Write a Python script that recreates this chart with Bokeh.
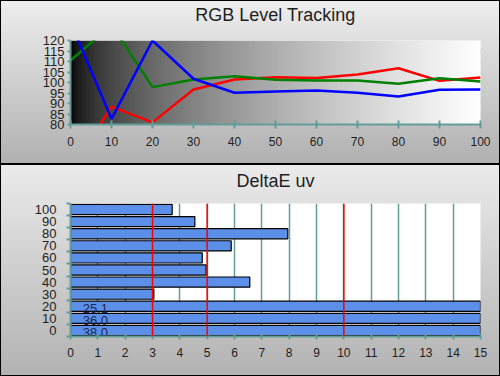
import numpy as np
from bokeh.plotting import figure
from bokeh.layouts import column
from bokeh.models import ColumnDataSource, Span, Range1d, FixedTicker, Title
from bokeh.core.properties import value
from bokeh.embed import file_html
from bokeh.resources import INLINE

# ---------------- data ----------------
levels = [0, 10, 20, 30, 40, 50, 60, 70, 80, 90, 100]
red = [58.0, 88.5, 81.0, 96.7, 101.4, 102.5, 102.2, 103.8, 106.8, 100.8, 102.4]
green = [110.5, 127.4, 97.8, 101.4, 103.0, 101.3, 101.0, 101.0, 99.4, 102.0, 100.5]
blue = [128.7, 82.7, 120.0, 101.8, 95.1, 95.7, 96.2, 95.1, 93.3, 96.5, 96.7]

de_levels = [0, 10, 20, 30, 40, 50, 60, 70, 80, 90, 100]
de_values = [38.0, 36.0, 25.1, 3.05, 6.56, 4.96, 4.82, 5.88, 7.95, 4.55, 3.72]
de_limits = [3, 5, 10]

rgb_yticks = [80, 85, 90, 95, 100, 105, 110, 115, 120]
rgb_xticks = [0, 10, 20, 30, 40, 50, 60, 70, 80, 90, 100]
de_xticks = list(range(0, 16))

TEAL = "#639d99"
FONT = "Liberation Sans"
TXT = "#1e1e1e"


def style_panel(p, grad, title, gap):
    p.border_fill_alpha = 0
    p.styles = {"background": grad, "outline": "1px solid #000",
                "outline-offset": "-1px"}
    # spacer between the frame and the title
    p.add_layout(Title(text=" ", text_font_size=gap, standoff=0), "above")
    p.add_layout(Title(text=title, align="center", text_font=FONT,
                       text_font_style="normal", text_color=TXT,
                       text_font_size="18px", standoff=0), "above")
    p.outline_line_color = None
    for ax in (p.xaxis[0], p.yaxis[0]):
        ax.axis_line_color = TEAL
        ax.axis_line_width = 2
        ax.major_tick_line_color = TEAL
        ax.major_tick_line_width = 2
        ax.minor_tick_line_color = TEAL
        ax.minor_tick_line_width = 2
        ax.major_label_text_font = FONT
        ax.major_label_text_color = TXT


# ---------------- top: RGB level tracking ----------------
p1 = figure(width=500, height=164, output_backend="svg", toolbar_location=None,
            x_range=Range1d(0, 100), y_range=Range1d(80, 120),
            min_border_left=40, min_border_right=20,
            min_border_top=40, min_border_bottom=40)
style_panel(p1, "linear-gradient(#eeeeee, #b0b0b0)", "RGB Level Tracking", "12px")

# background gradient black -> white inside the frame
n = 256
t = np.linspace(0, 1, n)
b = np.clip(255 * t ** 0.55, 0, 255).astype(np.uint32)
img = np.empty((1, n), dtype=np.uint32)
view = img.view(dtype=np.uint8).reshape((1, n, 4))
view[0, :, 0] = b
view[0, :, 1] = b
view[0, :, 2] = b
view[0, :, 3] = 255
p1.image_rgba(image=[img], x=0, y=80, dw=100, dh=40)

p1.xgrid.visible = False
p1.ygrid.grid_line_color = TEAL
p1.ygrid.grid_line_width = 1.5
p1.ygrid.ticker = FixedTicker(ticks=rgb_yticks)
p1.yaxis.ticker = FixedTicker(ticks=rgb_yticks)
p1.xaxis.ticker = FixedTicker(ticks=rgb_xticks)
p1.yaxis.major_tick_in = 0
p1.yaxis.major_tick_out = 3
p1.xaxis.major_tick_in = 4
p1.xaxis.major_tick_out = 4
p1.xaxis.major_label_standoff = 8
p1.yaxis.major_label_standoff = 3
p1.yaxis.major_label_text_font_size = "13px"
p1.xaxis.major_label_text_font_size = "12px"
p1.yaxis.minor_tick_line_color = None
p1.xaxis.minor_tick_line_color = None

src = ColumnDataSource(dict(x=levels, r=red, g=green, b=blue))
p1.line("x", "r", source=src, line_color="#ff0000", line_width=2.5)
p1.line("x", "g", source=src, line_color="#008000", line_width=2.5)
p1.line("x", "b", source=src, line_color="#0000ff", line_width=2.5)

# ---------------- bottom: DeltaE uv ----------------
p2 = figure(width=500, height=212, output_backend="svg", toolbar_location=None,
            x_range=Range1d(0, 15), y_range=Range1d(-5, 105),
            min_border_left=70, min_border_right=20,
            min_border_top=39, min_border_bottom=40)
style_panel(p2, "linear-gradient(#ebebeb, #b2b2b2)", "DeltaE uv", "10px")
p2.background_fill_color = "#ffffff"

p2.ygrid.visible = False
p2.xgrid.grid_line_color = TEAL
p2.xgrid.grid_line_width = 1.5
p2.xgrid.ticker = FixedTicker(ticks=de_xticks)
p2.xaxis.ticker = FixedTicker(ticks=de_xticks)
p2.yaxis.ticker = FixedTicker(ticks=de_levels,
                              minor_ticks=[v - 5 for v in de_levels] + [105])
p2.yaxis.major_tick_out = 0
p2.yaxis.major_tick_in = 0
p2.yaxis.minor_tick_out = 4
p2.yaxis.minor_tick_in = 0
p2.xaxis.major_tick_in = 3
p2.xaxis.major_tick_out = 3
p2.xaxis.minor_tick_line_color = None
p2.xaxis.major_label_standoff = 8
p2.yaxis.major_label_standoff = 10
p2.yaxis.major_label_text_font_size = "13px"
p2.xaxis.major_label_text_font_size = "12px"

bsrc = ColumnDataSource(dict(y=de_levels, v=de_values))
p2.hbar(y="y", right="v", left=0, height=8.4, source=bsrc,
        fill_color="#5b8fe8", line_color="#000000", line_width=1.2)

for lim in de_limits:
    p2.add_layout(Span(location=lim, dimension="height",
                       line_color="#ff0000", line_width=1.5))

over = [(y, v) for y, v in zip(de_levels, de_values) if v > 15]
lsrc = ColumnDataSource(dict(x=[0.45] * len(over),
                             y=[y - 1.5 for y, v in over],
                             t=["%.1f" % v for y, v in over]))
p2.text(x="x", y="y", text="t", source=lsrc, text_font=value(FONT),
        text_font_size="13px", text_color="#1a2a55",
        text_baseline="middle", text_align="left")

layout = column(p1, p2, spacing=0)
open("out.html", "w").write(file_html(layout, INLINE))
